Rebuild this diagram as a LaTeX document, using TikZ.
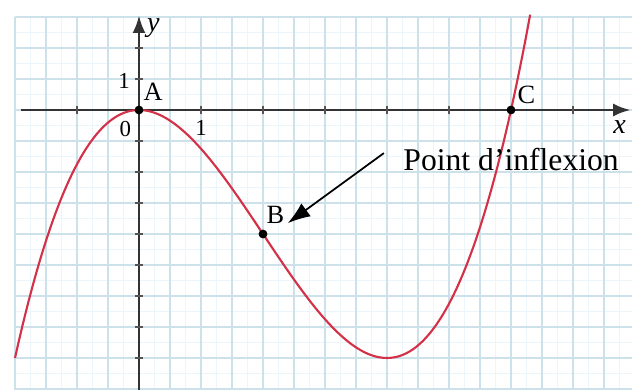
\documentclass[tikz,border=0pt]{standalone}
\usepackage{fontspec}
\setmainfont{Liberation Serif}
\usetikzlibrary{arrows.meta,positioning}
\definecolor{gridmain}{RGB}{204,225,234}
\definecolor{gridminor}{RGB}{236,245,249}
\definecolor{curvered}{RGB}{212,48,72}
\definecolor{axisgray}{RGB}{85,85,85}

\begin{document}
\begin{tikzpicture}[x=1.24cm, y=0.62cm,
  grid_main/.style={gridmain, line width=0.9pt},
  grid_minor/.style={gridminor, line width=0.5pt},
  axis_line/.style={axisgray, line width=1.6pt},
  tick_mark/.style={axisgray, line width=1pt},
  curve/.style={curvered, line width=1.2pt},
  pt_dot/.style={circle, fill=black, inner sep=0pt, minimum size=5pt},
  lbl/.style={font=\fontsize{15}{15}\selectfont, inner sep=1pt},
  num/.style={font=\fontsize{13}{13}\selectfont, inner sep=1pt},
  arrow/.style={-{Latex[length=4.5mm, width=3.2mm]}, line width=1pt}
]
  \useasboundingbox (-2.2419,-9.0323) rectangle (7.9516,3.5484);
  \fill[white] (-2.2419,-9.0323) rectangle (7.9516,3.5484);

  % graph paper
  \foreach \gx in {-1.75,-1.25,...,7.75} \draw[grid_minor] (\gx,-9.1) -- (\gx,3);
  \foreach \gy in {2.5,1.5,...,-8.5} \draw[grid_minor] (-2,\gy) -- (8,\gy);
  \foreach \gx in {-2,-1.5,...,7.5} \draw[grid_main] (\gx,-9.1) -- (\gx,3);
  \foreach \gy in {3,2,...,-9} \draw[grid_main] (-2,\gy) -- (8,\gy);

  % axes
  \coordinate (x_start) at (-1.9,0);
  \coordinate (x_end) at (7.93,0);
  \coordinate (y_start) at (0,-9.1);
  \coordinate (y_end) at (0,3.05);
  \draw[axis_line, -{Latex[length=3.5mm, width=2.6mm]}, black!80] (x_start) -- (x_end);
  \draw[axis_line, -{Latex[length=3.5mm, width=2.6mm]}, black!80] (y_start) -- (y_end);
  \foreach \tx in {-1,1,2,3,4,5,6,7} \draw[tick_mark] (\tx,-0.12) -- (\tx,0.12);
  \foreach \ty in {2,1,-1,-2,-3,-4,-5,-6,-7,-8} \draw[tick_mark] (-0.06,\ty) -- (0.06,\ty);

  \node[lbl, font=\fontsize{16}{16}\selectfont\itshape] (y_lbl) at (0.23,2.65) {y};
  \node[lbl, font=\fontsize{16}{16}\selectfont\itshape] (x_lbl) at (7.75,-0.55) {x};
  \node[num] (one_y) at (-0.24,0.95) {1};
  \node[num] (zero) at (-0.22,-0.6) {0};
  \node[num] (one_x) at (1.0,-0.58) {1};

  % curve f(x) = (x^3 - 6x^2)/4
  \draw[curve, domain=-2:6.31, samples=120, smooth] plot (\x, {(\x*\x*\x - 6*\x*\x)/4});

  \node[pt_dot] (A) at (0,0) {};
  \node[pt_dot] (B) at (2,-4) {};
  \node[pt_dot] (C) at (6,0) {};
  \node[lbl] (A_lbl) at (0.23,0.6) {A};
  \node[lbl] (B_lbl) at (2.2,-3.37) {B};
  \node[lbl] (C_lbl) at (6.25,0.5) {C};

  \node[font=\fontsize{18}{18}\selectfont, anchor=west, inner sep=0pt] (inflex) at (4.26,-1.61) {Point d’inflexion};
  \coordinate (arrow_start) at (3.95,-1.39);
  \coordinate (arrow_tip) at (2.4,-3.65);
  \draw[arrow] (arrow_start) -- (arrow_tip);
\end{tikzpicture}
\end{document}
